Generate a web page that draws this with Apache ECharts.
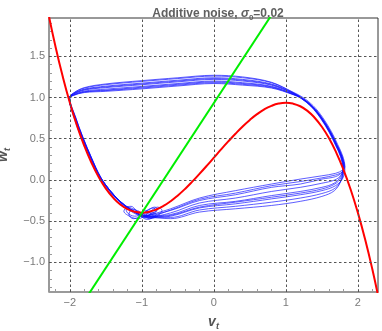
<!DOCTYPE html>
<html>
<head>
<meta charset="utf-8">
<script src="https://cdn.jsdelivr.net/npm/echarts@6/dist/echarts.min.js"></script>
<style>html,body{margin:0;padding:0;background:#fff;}#c{width:382px;height:331px;}</style>
</head>
<body>
<div id="c"></div>
<script>
// Tick labels
var xTickLabels = [-2, -1, 0, 1, 2];
var yTickLabels = [-1.0, -0.5, 0.0, 0.5, 1.0, 1.5];
var xMinorTicks = [-2.2,-2.0,-1.8,-1.6,-1.4,-1.2,-1.0,-0.8,-0.6,-0.4,-0.2,0,0.2,0.4,0.6,0.8,1.0,1.2,1.4,1.6,1.8,2.0,2.2];
var yMinorTicks = [-1.3,-1.2,-1.1,-1.0,-0.9,-0.8,-0.7,-0.6,-0.5,-0.4,-0.3,-0.2,-0.1,0,0.1,0.2,0.3,0.4,0.5,0.6,0.7,0.8,0.9,1.0,1.1,1.2,1.3,1.4,1.5,1.6,1.7,1.8,1.9];

// v-nullcline (red)
var redNullcline = [[-2.3,2.026],[-2.2,1.619],[-2.1,1.257],[-2.0,0.937],[-1.9,0.656],[-1.8,0.414],[-1.7,0.208],[-1.6,0.035],[-1.5,-0.105],[-1.4,-0.215],[-1.3,-0.298],[-1.2,-0.354],[-1.1,-0.386],[-1.0,-0.397],[-0.9,-0.387],[-0.8,-0.359],[-0.7,-0.316],[-0.6,-0.258],[-0.5,-0.188],[-0.4,-0.109],[-0.3,-0.021],[-0.2,0.073],[-0.1,0.170],[0,0.270],[0.1,0.370],[0.2,0.467],[0.3,0.561],[0.4,0.649],[0.5,0.728],[0.6,0.798],[0.7,0.856],[0.8,0.899],[0.9,0.927],[1.0,0.937],[1.1,0.926],[1.2,0.894],[1.3,0.838],[1.4,0.755],[1.5,0.645],[1.6,0.505],[1.7,0.332],[1.8,0.126],[1.9,-0.116],[2.0,-0.397],[2.1,-0.717],[2.2,-1.079],[2.3,-1.486]];
// w-nullcline (green)
var greenNullcline = [[-1.8,-1.467],[0.8,2.0]];

// Noisy trajectory loops (blue)
var loop1 = [[-0.95,-0.44],[-0.6,-0.35],[-0.2,-0.22],[0.3,-0.13],[0.8,-0.05],[1.2,0.01],[1.5,0.05],[1.69,0.08],[1.79,0.12],[1.82,0.16],[1.79,0.29],[1.72,0.43],[1.63,0.59],[1.51,0.76],[1.38,0.90],[1.24,1.00],[1.1,1.065],[0.8,1.185],[0.4,1.25],[0,1.27],[-0.5,1.24],[-1.0,1.205],[-1.5,1.165],[-1.8,1.12],[-1.95,1.055],[-2.01,0.99],[-1.93,0.77],[-1.83,0.53],[-1.71,0.28],[-1.58,0.04],[-1.44,-0.13],[-1.30,-0.26],[-1.16,-0.36],[-1.04,-0.42],[-0.96,-0.45]];
var blob1 = [[-0.85,-0.40],[-0.78,-0.36],[-0.82,-0.33],[-0.9,-0.36],[-1.0,-0.42],[-1.1,-0.44],[-1.2,-0.40],[-1.22,-0.34],[-1.15,-0.32],[-1.08,-0.37],[-1.0,-0.45],[-0.92,-0.48],[-0.84,-0.44],[-0.9,-0.40],[-0.98,-0.43]];
var loop2 = [[-0.96,-0.43],[-0.6,-0.37],[-0.2,-0.25],[0.3,-0.18],[0.8,-0.09],[1.2,-0.05],[1.5,0.01],[1.69,0.04],[1.78,0.09],[1.81,0.15],[1.78,0.28],[1.71,0.42],[1.62,0.58],[1.50,0.75],[1.37,0.89],[1.23,0.99],[1.1,1.04],[0.8,1.13],[0.4,1.17],[0,1.19],[-0.5,1.16],[-1.0,1.125],[-1.5,1.09],[-1.8,1.07],[-1.95,1.03],[-2.0,0.99],[-1.92,0.76],[-1.82,0.52],[-1.70,0.27],[-1.57,0.03],[-1.43,-0.14],[-1.29,-0.27],[-1.15,-0.36],[-1.03,-0.42],[-0.93,-0.45]];
var loop3 = [[-0.93,-0.45],[-0.6,-0.40],[-0.2,-0.28],[0.3,-0.22],[0.8,-0.14],[1.2,-0.09],[1.5,-0.04],[1.68,0.00],[1.77,0.06],[1.80,0.14],[1.77,0.28],[1.70,0.42],[1.61,0.58],[1.49,0.75],[1.36,0.89],[1.22,0.99],[1.1,1.056],[0.8,1.164],[0.4,1.22],[0,1.24],[-0.5,1.21],[-1.0,1.175],[-1.5,1.138],[-1.8,1.102],[-1.95,1.046],[-2.01,0.99],[-1.93,0.76],[-1.83,0.52],[-1.71,0.27],[-1.58,0.03],[-1.44,-0.14],[-1.30,-0.27],[-1.16,-0.36],[-1.04,-0.42],[-0.97,-0.44]];
var blob2 = [[-0.9,-0.47],[-0.8,-0.45],[-0.75,-0.41],[-0.72,-0.37],[-0.78,-0.33],[-0.85,-0.36],[-0.95,-0.43],[-1.05,-0.47],[-1.15,-0.45],[-1.25,-0.38],[-1.2,-0.33],[-1.1,-0.36],[-1.02,-0.40],[-0.95,-0.37],[-0.88,-0.41],[-0.97,-0.44]];
var loop4 = [[-0.97,-0.44],[-0.6,-0.42],[-0.2,-0.31],[0.3,-0.26],[0.8,-0.19],[1.2,-0.14],[1.5,-0.09],[1.67,-0.04],[1.76,0.04],[1.79,0.14],[1.76,0.28],[1.69,0.42],[1.60,0.58],[1.48,0.75],[1.35,0.89],[1.21,0.99],[1.1,1.035],[0.8,1.115],[0.4,1.15],[0,1.17],[-0.5,1.14],[-1.0,1.105],[-1.5,1.075],[-1.8,1.06],[-1.95,1.025],[-2.01,0.99],[-1.94,0.75],[-1.84,0.51],[-1.72,0.26],[-1.59,0.02],[-1.45,-0.15],[-1.31,-0.28],[-1.17,-0.37],[-1.05,-0.43],[-0.95,-0.46]];
var loop5 = [[-0.95,-0.46],[-0.6,-0.44],[-0.2,-0.34],[0.3,-0.29],[0.8,-0.23],[1.2,-0.18],[1.5,-0.13],[1.69,-0.07],[1.79,0.02],[1.82,0.13],[1.785,0.28],[1.715,0.42],[1.625,0.58],[1.505,0.75],[1.375,0.89],[1.235,0.99],[1.1,1.06],[0.8,1.18],[0.4,1.24],[0,1.26],[-0.5,1.23],[-1.0,1.195],[-1.5,1.156],[-1.8,1.114],[-1.95,1.052],[-2.01,0.99],[-1.93,0.77],[-1.83,0.53],[-1.71,0.28],[-1.58,0.04],[-1.44,-0.13],[-1.30,-0.26],[-1.16,-0.35],[-1.04,-0.41],[-0.94,-0.43]];
var loop6 = [[-0.94,-0.43],[-0.6,-0.455],[-0.2,-0.365],[0.3,-0.32],[0.8,-0.27],[1.2,-0.22],[1.5,-0.165],[1.685,-0.10],[1.775,0.005],[1.805,0.13],[1.775,0.28],[1.705,0.42],[1.615,0.58],[1.495,0.75],[1.365,0.89],[1.225,0.99],[1.1,1.05],[0.8,1.15],[0.4,1.20],[0,1.22],[-0.5,1.19],[-1.0,1.155],[-1.5,1.12],[-1.8,1.09],[-1.95,1.04],[-2.01,0.99],[-1.93,0.76],[-1.83,0.52],[-1.71,0.27],[-1.58,0.03],[-1.44,-0.14],[-1.30,-0.27],[-1.16,-0.36],[-1.04,-0.42],[-0.96,-0.44]];
var blob3 = [[-0.88,-0.42],[-0.8,-0.38],[-0.84,-0.34],[-0.93,-0.37],[-1.02,-0.44],[-1.12,-0.47],[-1.18,-0.42],[-1.14,-0.36],[-1.04,-0.38],[-0.96,-0.44],[-0.86,-0.46],[-0.8,-0.42],[-0.9,-0.39],[-1.0,-0.42],[-0.96,-0.44]];
var loop7 = [[-0.96,-0.44],[-0.6,-0.47],[-0.2,-0.39],[0.3,-0.35],[0.8,-0.31],[1.2,-0.26],[1.5,-0.20],[1.675,-0.13],[1.765,-0.01],[1.795,0.13],[1.765,0.28],[1.695,0.42],[1.605,0.58],[1.485,0.75],[1.355,0.89],[1.215,0.99],[1.1,1.044],[0.8,1.136],[0.4,1.18],[0,1.20],[-0.5,1.17],[-1.0,1.135],[-1.5,1.102],[-1.8,1.078],[-1.95,1.034],[-2.0,0.99],[-1.92,0.76],[-1.82,0.52],[-1.70,0.27],[-1.57,0.03],[-1.43,-0.14],[-1.29,-0.27],[-1.15,-0.36],[-1.03,-0.42],[-0.95,-0.45]];
var loop8 = [[-0.95,-0.45],[-0.6,-0.365],[-0.2,-0.235],[0.3,-0.16],[0.8,-0.07],[1.2,-0.02],[1.5,0.025],[1.69,0.06],[1.78,0.095],[1.81,0.15],[1.78,0.28],[1.71,0.42],[1.62,0.58],[1.50,0.75],[1.37,0.89],[1.23,0.99],[1.1,1.053],[0.8,1.157],[0.4,1.21],[0,1.23],[-0.5,1.20],[-1.0,1.165],[-1.5,1.129],[-1.8,1.096],[-1.95,1.043],[-2.01,0.99],[-1.93,0.76],[-1.83,0.52],[-1.71,0.27],[-1.58,0.03],[-1.44,-0.14],[-1.30,-0.27],[-1.16,-0.36],[-1.04,-0.42],[-0.97,-0.45]];
var loop9 = [[-0.97,-0.45],[-0.6,-0.43],[-0.2,-0.33],[0.3,-0.27],[0.8,-0.21],[1.2,-0.16],[1.5,-0.11],[1.68,-0.05],[1.77,0.03],[1.80,0.14],[1.77,0.28],[1.70,0.42],[1.61,0.58],[1.49,0.75],[1.36,0.89],[1.22,0.99],[1.1,1.038],[0.8,1.122],[0.4,1.16],[0,1.18],[-0.5,1.15],[-1.0,1.115],[-1.5,1.084],[-1.8,1.066],[-1.95,1.028],[-2.01,0.99],[-1.93,0.76],[-1.83,0.52],[-1.71,0.27],[-1.58,0.03],[-1.44,-0.14],[-1.30,-0.27],[-1.16,-0.36],[-1.04,-0.42],[-0.95,-0.44]];

var trajectory = [].concat(loop1, blob1, loop2, loop3, blob2, loop4, loop5, loop6, blob3, loop7, loop8, loop9);

var gridX = [-2, -1, 0, 1, 2];
var gridY = [-1.0, -0.5, 0.0, 0.5, 1.0, 1.5];

function fmt(v, d) {
  var s = Number(v).toFixed(d);
  return s.replace('-', '\u2212');
}

var chart = echarts.init(document.getElementById('c'));
var gridLines = gridX.map(function (x) { return { xAxis: x }; })
  .concat(gridY.map(function (y) { return { yAxis: y }; }));

var FONT = 'Liberation Sans, Arial, sans-serif';
chart.setOption({
  animation: false,
  backgroundColor: '#ffffff',
  title: {
    text: '{a|Additive noise, }{i|σ}{s|0}{a|=0.02}',
    left: 213, top: 1, textAlign: 'center',
    textStyle: {
      rich: {
        a: { fontFamily: FONT, fontSize: 12, fontWeight: 'bold', color: '#606060', lineHeight: 16 },
        i: { fontFamily: FONT, fontSize: 12, fontWeight: 'bold', fontStyle: 'italic', color: '#606060', lineHeight: 16 },
        s: { fontFamily: FONT, fontSize: 8, fontWeight: 'bold', color: '#606060', lineHeight: 16, verticalAlign: 'bottom' }
      }
    }
  },
  grid: { left: 49, right: 4, top: 18, bottom: 39, containLabel: false, outerBoundsMode: 'none', show: true, borderColor: '#333', borderWidth: 1, backgroundColor: 'transparent' },
  xAxis: {
    type: 'value', min: -2.29, max: 2.28,
    name: '{b|v}{s|t}', nameLocation: 'middle', nameGap: 21,
    nameTextStyle: { rich: {
      b: { fontFamily: FONT, fontSize: 14, fontWeight: 'bold', fontStyle: 'italic', color: '#555', lineHeight: 18 },
      s: { fontFamily: FONT, fontSize: 9, fontWeight: 'bold', fontStyle: 'italic', color: '#555', lineHeight: 18, verticalAlign: 'bottom' }
    } },
    axisLine: { show: true, onZero: false, lineStyle: { color: '#9a9a9a', width: 1.5 } },
    axisTick: { show: true, inside: true, length: 3, customValues: xMinorTicks, lineStyle: { color: '#9a9a9a' } },
    axisLabel: { customValues: xTickLabels, margin: 5, fontFamily: FONT, fontSize: 11, color: '#7a7a7a', formatter: function (v) { return fmt(v, 0); } },
    splitLine: { show: false }
  },
  yAxis: {
    type: 'value', min: -1.36, max: 1.965,
    name: '{b|w}{s|t}', nameLocation: 'middle', nameGap: 27, nameRotate: 90,
    nameTextStyle: { rich: {
      b: { fontFamily: FONT, fontSize: 14, fontWeight: 'bold', fontStyle: 'italic', color: '#555', lineHeight: 18 },
      s: { fontFamily: FONT, fontSize: 9, fontWeight: 'bold', fontStyle: 'italic', color: '#555', lineHeight: 18, verticalAlign: 'bottom' }
    } },
    axisLine: { show: true, onZero: false, lineStyle: { color: '#9a9a9a', width: 1.5 } },
    axisTick: { show: true, inside: true, length: 3, customValues: yMinorTicks, lineStyle: { color: '#9a9a9a' } },
    axisLabel: { customValues: yTickLabels, margin: 4, fontFamily: FONT, fontSize: 11, color: '#7a7a7a', formatter: function (v) { return fmt(v, 1); } },
    splitLine: { show: false }
  },
  series: [
    {
      type: 'line', data: [], silent: true,
      markLine: { silent: true, symbol: 'none', label: { show: false },
        lineStyle: { color: '#555', width: 1, type: [2.5, 2.5] }, data: gridLines, animation: false }
    },
    {
      type: 'line', data: trajectory, showSymbol: false, smooth: 0.35, clip: true,
      lineStyle: { color: '#1010ff', width: 0.8, opacity: 0.85 }, z: 3
    },
    {
      type: 'line', data: redNullcline, showSymbol: false, smooth: true, clip: true,
      lineStyle: { color: '#ff0000', width: 2 }, z: 4
    },
    {
      type: 'line', data: greenNullcline, showSymbol: false, clip: true,
      lineStyle: { color: '#00ee00', width: 2 }, z: 5
    }
  ]
});
</script>
</body>
</html>
